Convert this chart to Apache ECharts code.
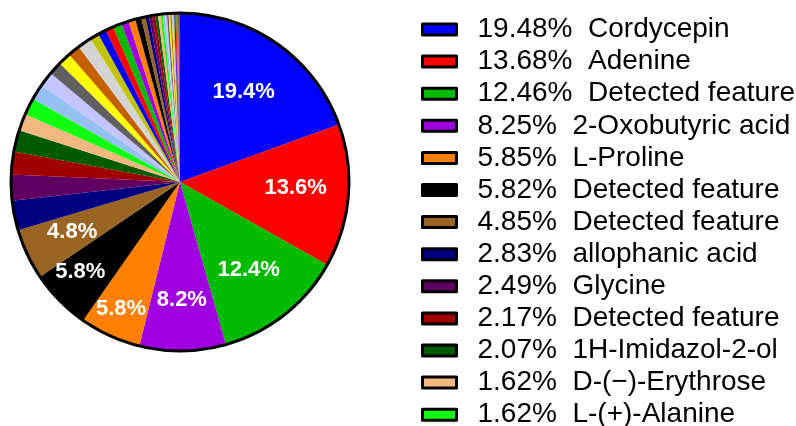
<!DOCTYPE html>
<html>
<head>
<meta charset="utf-8">
<script src="https://cdn.jsdelivr.net/npm/echarts@6/dist/echarts.min.js"></script>
<style>
  html, body { margin: 0; padding: 0; background: #ffffff; }
  #chart { width: 796px; height: 426px; }
</style>
</head>
<body>
<div id="chart"></div>
<script>
// Named components listed in the legend (share of total, %)
const names = [
  'Cordycepin', 'Adenine', 'Detected feature', '2-Oxobutyric acid', 'L-Proline',
  'Detected feature', 'Detected feature', 'allophanic acid', 'Glycine',
  'Detected feature', '1H-Imidazol-2-ol', 'D-(\u2212)-Erythrose', 'L-(+)-Alanine'
];
const shares = [19.48, 13.68, 12.46, 8.25, 5.85, 5.82, 4.85, 2.83, 2.49, 2.17, 2.07, 1.62, 1.62];

// Minor components that follow, in clockwise order (share of total, %)
const minorShares = [
  1.50, 1.45, 1.25, 1.22, 1.15, 1.35, 0.85, 0.80, 0.76, 0.85,
  0.70, 0.66, 0.58, 0.40, 0.34, 0.30, 0.29, 0.27, 0.25, 0.22,
  0.20, 0.18, 0.16, 0.15, 0.14, 0.13, 0.12, 0.10, 0.09, 0.08,
  0.07, 0.06, 0.05, 0.04, 0.05
];

// Slice colours, cycled
const palette = [
  '#0000ff', '#ff0000', '#00bb00', '#a000e0', '#ff8000', '#000000', '#9a6522',
  '#000080', '#600060', '#a00000', '#005a00', '#f2b880', '#10ff10', '#94c0f4',
  '#c4c4ff', '#606060', '#ffff00', '#c46000', '#d4d4d4', '#c2c200'
];

// Small label nudges (px) relative to the default in-slice position
const labelNudge = {
  0: [-3, 5], 1: [0, -4], 2: [-3, -3], 3: [0, 2],
  4: [-11, 21], 5: [-17, 9], 6: [-3, 0]
};

const fmtPct = v => v.toFixed(2) + '%  ';
const legendNames = names.map((n, i) => fmtPct(shares[i]) + n);

const allValues = shares.concat(minorShares);
const sliceData = allValues.map((v, i) => ({
  name: i < names.length ? legendNames[i] : 'minor ' + (i - names.length + 1),
  value: v,
  itemStyle: { color: palette[i % palette.length] }
}));

const labelData = allValues.map((v, i) => {
  const showLabel = v >= 4.8;
  const item = {
    name: sliceData[i].name,
    value: v,
    label: { show: showLabel }
  };
  if (showLabel && labelNudge[i]) item.label.offset = labelNudge[i];
  return item;
});

const CENTER = [180, 182];
const R = 169;

const chart = echarts.init(document.getElementById('chart'), null, { renderer: 'canvas' });
chart.setOption({
  animation: false,
  backgroundColor: '#ffffff',
  legend: {
    data: legendNames,
    orient: 'vertical',
    left: 421,
    top: 15.5,
    height: 500,
    padding: 0,
    itemGap: 4.1,
    itemWidth: 34,
    itemHeight: 11,
    icon: 'rect',
    selectedMode: false,
    itemStyle: { borderColor: '#000000', borderWidth: 3 },
    textStyle: {
      fontFamily: '"Liberation Sans", Arial, sans-serif',
      fontSize: 28,
      lineHeight: 28,
      color: '#000000',
      padding: [0, 0, 0, 16]
    }
  },
  series: [
    {
      type: 'pie',
      center: CENTER,
      radius: [0, R],
      startAngle: 90,
      clockwise: true,
      silent: true,
      itemStyle: { borderWidth: 0 },
      label: { show: false },
      labelLine: { show: false },
      emphasis: { disabled: true },
      data: sliceData
    },
    {
      // transparent twin that carries the in-slice percentage labels
      type: 'pie',
      center: CENTER,
      radius: [57, R],
      startAngle: 90,
      clockwise: true,
      silent: true,
      avoidLabelOverlap: false,
      itemStyle: { color: 'rgba(0,0,0,0)', borderWidth: 0 },
      label: {
        position: 'inside',
        color: '#ffffff',
        fontFamily: '"Liberation Sans", Arial, sans-serif',
        fontWeight: 'bold',
        fontSize: 22,
        formatter: p => (Math.floor(p.value * 10 + 1e-6) / 10).toFixed(1) + '%'
      },
      labelLine: { show: false },
      emphasis: { disabled: true },
      data: labelData
    },
    {
      // outer rim
      type: 'pie',
      center: CENTER,
      radius: [0, R],
      silent: true,
      itemStyle: { color: 'rgba(0,0,0,0)', borderColor: '#000000', borderWidth: 3 },
      label: { show: false },
      labelLine: { show: false },
      emphasis: { disabled: true },
      data: [{ name: 'rim', value: 1 }]
    }
  ]
});
</script>
</body>
</html>
